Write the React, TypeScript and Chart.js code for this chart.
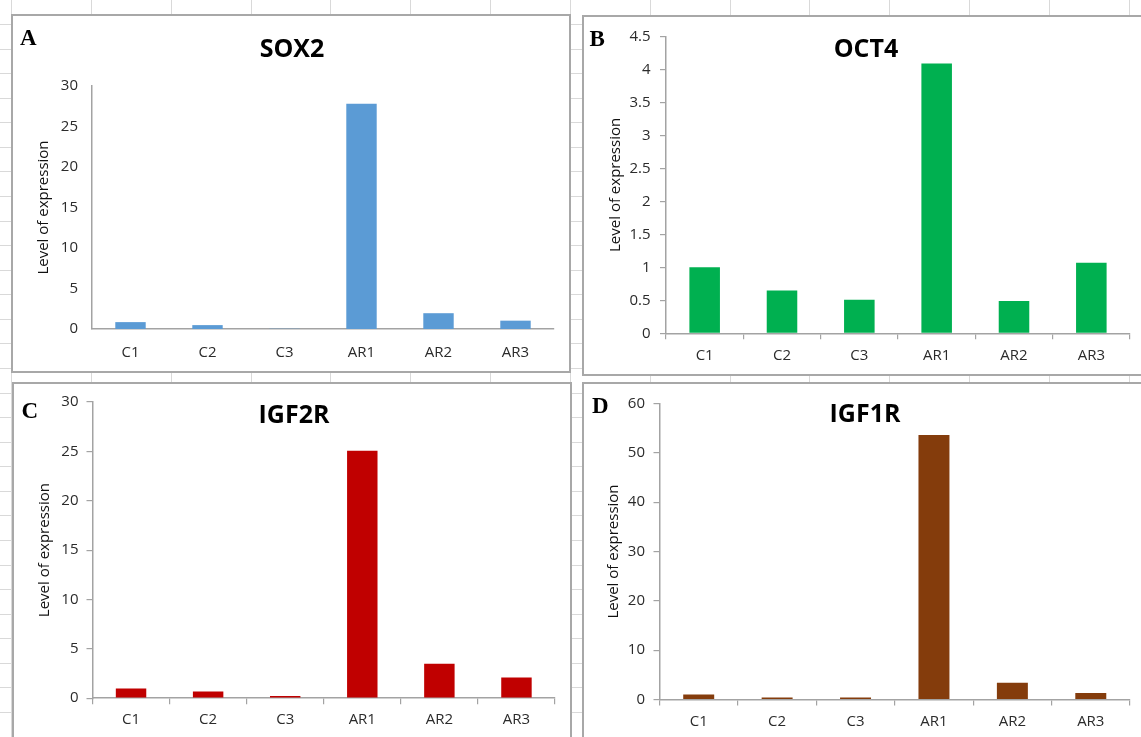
import React, { useEffect, useRef } from 'react';
import { Chart, registerables } from 'chart.js';

Chart.register(...registerables);

// ---------- data ----------
const categories = ['C1', 'C2', 'C3', 'AR1', 'AR2', 'AR3'];
const sox2Values = [0.85, 0.48, 0.03, 27.8, 1.95, 1.03];
const oct4Values = [1.0, 0.65, 0.51, 4.09, 0.49, 1.07];
const igf2rValues = [0.98, 0.67, 0.23, 25.05, 3.5, 2.09];
const igf1rValues = [1.0, 0.4, 0.4, 53.6, 3.4, 1.34];
const panelTitles = ['SOX2', 'OCT4', 'IGF2R', 'IGF1R'];
const panelLetters = ['A', 'B', 'C', 'D'];
const yAxisMax = [30, 4.5, 30, 60];
const yAxisStep = [5, 0.5, 5, 10];
const yAxisTitle = 'Level of expression';

// ---------- styles ----------
const AXIS = '#a3a3a3';
const LABEL = '#2b2b2b';
const FONT = "'Open Sans', 'Noto Sans', sans-serif";
const barColors = ['#5B9BD5', '#00B050', '#C00000', '#843C0C'];

type Geo = {
  box: { left: number; top: number; width: number; height: number };
  left: number; top: number; width: number; height: number;
  yW: number; padTop: number; padRight: number; xH: number;
  titlePad: number; yTickPad: number; xTickPad: number; tickLen: number;
  titleX: number; titleY: number; letterX: number; letterY: number;
};

const geos: Geo[] = [
  {
    box: { left: 11, top: 14, width: 560, height: 359 },
    left: 14, top: 17, width: 554, height: 342,
    yW: 78, padTop: 69, padRight: 14, xH: 30,
    titlePad: 20.5, yTickPad: 14, xTickPad: 14.5, tickLen: 0,
    titleX: 292, titleY: 48.3, letterX: 20, letterY: 37.5,
  },
  {
    box: { left: 582, top: 15, width: 580, height: 361 },
    left: 585, top: 18, width: 556, height: 346,
    yW: 81, padTop: 17, padRight: 11, xH: 30.7,
    titlePad: 22, yTickPad: 9.5, xTickPad: 7, tickLen: 6,
    titleX: 866, titleY: 48, letterX: 589.5, letterY: 38.3,
  },
  {
    box: { left: 12, top: 381.5, width: 560, height: 400 },
    left: 15, top: 385, width: 554, height: 343,
    yW: 77.5, padTop: 16.5, padRight: 14, xH: 29.8,
    titlePad: 20.4, yTickPad: 8, xTickPad: 6.7, tickLen: 6,
    titleX: 294, titleY: 414.5, letterX: 21.5, letterY: 410.5,
  },
  {
    box: { left: 582, top: 382, width: 580, height: 400 },
    left: 585, top: 386, width: 556, height: 344,
    yW: 74.5, padTop: 15, padRight: 11, xH: 30.5,
    titlePad: 19.7, yTickPad: 8.5, xTickPad: 7.2, tickLen: 6,
    titleX: 865, titleY: 413.5, letterX: 592, letterY: 405.5,
  },
];

const seriesList = [sox2Values, oct4Values, igf2rValues, igf1rValues];

function BarPanel({ idx }: { idx: number }) {
  const ref = useRef<HTMLCanvasElement | null>(null);
  const geo = geos[idx];
  useEffect(() => {
    if (!ref.current) return;
    const hasTicks = geo.tickLen > 0;
    const chart = new Chart(ref.current, {
      type: 'bar',
      data: {
        labels: categories,
        datasets: [
          {
            data: seriesList[idx],
            backgroundColor: barColors[idx],
            borderWidth: 0,
            barPercentage: 0.395,
            categoryPercentage: 1,
          },
        ],
      },
      options: {
        animation: false,
        responsive: true,
        maintainAspectRatio: false,
        events: [],
        layout: { padding: { top: geo.padTop, right: geo.padRight, bottom: 0, left: 0 } },
        plugins: {
          legend: { display: false },
          tooltip: { enabled: false },
          title: { display: false },
        },
        scales: {
          x: {
            type: 'category',
            offset: true,
            grid: {
              display: hasTicks,
              drawOnChartArea: false,
              drawTicks: hasTicks,
              tickLength: geo.tickLen,
              color: AXIS,
              lineWidth: 1.2,
              offset: true,
            },
            border: { display: true, color: AXIS, width: 1.5 },
            ticks: {
              padding: geo.xTickPad,
              color: LABEL,
              font: { family: FONT, size: 15 },
              maxRotation: 0,
              autoSkip: false,
            },
            afterFit: (s: any) => {
              s.height = geo.xH;
            },
          },
          y: {
            type: 'linear',
            min: 0,
            max: yAxisMax[idx],
            ticks: {
              stepSize: yAxisStep[idx],
              padding: geo.yTickPad,
              color: LABEL,
              font: { family: FONT, size: 15 },
              callback: (v: any) => String(Math.round(Number(v) * 100) / 100),
            },
            grid: {
              display: hasTicks,
              drawOnChartArea: false,
              drawTicks: hasTicks,
              tickLength: geo.tickLen,
              color: AXIS,
              lineWidth: 1.2,
            },
            border: { display: true, color: AXIS, width: 1.5 },
            title: {
              display: true,
              text: yAxisTitle,
              color: '#111111',
              font: { family: FONT, size: 15 },
              padding: { top: geo.titlePad, bottom: 0 },
            },
            afterFit: (s: any) => {
              s.width = geo.yW;
            },
          },
        },
      },
    } as any);
    return () => chart.destroy();
  }, []);

  return (
    <>
      <div
        style={{
          position: 'absolute',
          left: geo.box.left,
          top: geo.box.top,
          width: geo.box.width,
          height: geo.box.height,
          boxSizing: 'border-box',
          border: '2px solid #a8a8a8',
          background: '#ffffff',
        }}
      />
      <div
        style={{
          position: 'absolute',
          left: geo.left,
          top: geo.top,
          width: geo.width,
          height: geo.height,
        }}
      >
        <canvas ref={ref} />
      </div>
      <div
        style={{
          position: 'absolute',
          left: geo.titleX - 150,
          width: 300,
          top: geo.titleY - 13.3,
          height: 25,
          lineHeight: '25px',
          textAlign: 'center',
          fontFamily: FONT,
          fontWeight: 700,
          fontSize: 25,
          color: '#000',
          whiteSpace: 'nowrap',
        }}
      >
        {panelTitles[idx]}
      </div>
      <div
        style={{
          position: 'absolute',
          left: geo.letterX,
          top: geo.letterY - 11.6,
          height: 23,
          lineHeight: '23px',
          fontFamily: "'Liberation Serif', 'Times New Roman', serif",
          fontWeight: 700,
          fontSize: 23,
          color: '#000',
        }}
      >
        {panelLetters[idx]}
      </div>
    </>
  );
}

function SheetGrid() {
  const cols: number[] = [];
  for (let k = -1; k < 14; k++) cols.push(91 + 79.83 * k);
  const rows: number[] = [];
  for (let k = 0; k < 31; k++) rows.push(24 + 24.57 * k);
  return (
    <>
      {cols.map((x, i) => (
        <div
          key={'c' + i}
          style={{ position: 'absolute', left: Math.round(x), top: 0, width: 1, height: 737, background: '#d9d9d9' }}
        />
      ))}
      {rows.map((y, i) => (
        <div
          key={'r' + i}
          style={{ position: 'absolute', left: 0, top: Math.round(y), width: 1141, height: 1, background: '#d9d9d9' }}
        />
      ))}
    </>
  );
}

export default function App() {
  return (
    <div
      style={{
        position: 'absolute',
        left: 0,
        top: 0,
        width: 1141,
        height: 737,
        overflow: 'hidden',
        background: '#ffffff',
      }}
    >
      <SheetGrid />
      {[0, 1, 2, 3].map((i) => (
        <BarPanel key={i} idx={i} />
      ))}
    </div>
  );
}
